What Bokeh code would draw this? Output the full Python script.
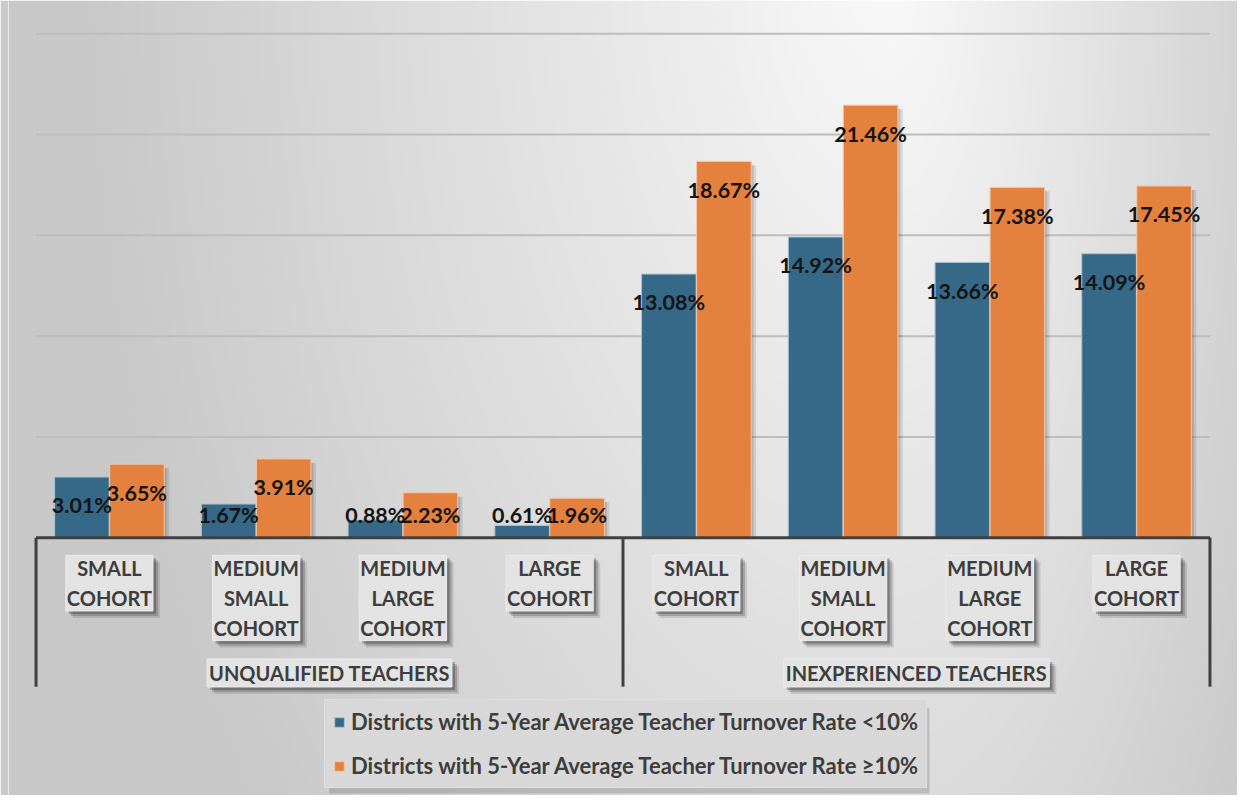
import numpy as np
from bokeh.plotting import figure
from bokeh.models import FactorRange, Range1d, ColumnDataSource, Legend, LegendItem
from bokeh.transform import dodge
from bokeh.core.properties import value
from bokeh.embed import file_html
from bokeh.resources import INLINE

# ---------------- data ----------------
GROUPS = ["UNQUALIFIED TEACHERS", "INEXPERIENCED TEACHERS"]
COHORTS = ["SMALL\nCOHORT", "MEDIUM\nSMALL\nCOHORT", "MEDIUM\nLARGE\nCOHORT", "LARGE\nCOHORT"]
SERIES = ["Districts with 5-Year Average Teacher Turnover Rate <10%",
          "Districts with 5-Year Average Teacher Turnover Rate \u226510%"]
LOW_TURNOVER = [3.01, 1.67, 0.88, 0.61, 13.08, 14.92, 13.66, 14.09]
HIGH_TURNOVER = [3.65, 3.91, 2.23, 1.96, 18.67, 21.46, 17.38, 17.45]
GRID_TICKS = [5, 10, 15, 20, 25]

# ---------------- layout constants ----------------
W, H = 1237, 795
SX, SY = W / 1253, H / 811        # reference picture -> canvas
L = 8                             # left border (px)
U0, U8 = 36 * SX, 1225 * SX       # category span in canvas px
PX_PER_UNIT = (U8 - U0) / 8
PAD = (U0 - L) / PX_PER_UNIT
Y0C, Y25C = 548 * SY, 34 * SY
PX_PER_PCT = (Y0C - Y25C) / 25
Y_TOP = 25 + Y25C / PX_PER_PCT
Y_BOT = -(H - Y0C) / PX_PER_PCT

REF_PCT = (548 - 34) / 25         # reference px per percent
REF_UNIT = (1225 - 36) / 8        # reference px per category


def y_ref(ry):                    # reference pixel row -> data value
    return (548 - ry) / REF_PCT


def x_ref(rx):                    # reference pixel column -> synthetic x
    return (rx - 36) / REF_UNIT


BLUE = "#356987"
ORANGE = "#e4813f"
DODGE = 0.1875
BAR_W = 0.372
FONT = value("Lato")

factors = [(g, c) for g in GROUPS for c in COHORTS]
xr = FactorRange(factors=factors, factor_padding=0, group_padding=0, subgroup_padding=0,
                 range_padding=PAD, range_padding_units="absolute")

p = figure(width=W, height=H, x_range=xr, y_range=Range1d(Y_BOT, Y_TOP),
           output_backend="svg", toolbar_location=None,
           min_border_left=L, min_border_right=0, min_border_top=0, min_border_bottom=0,
           x_axis_location=None, y_axis_location=None)
p.xgrid.visible = False
p.ygrid.visible = False
p.outline_line_color = None
p.border_fill_color = "#c9c9c9"

# ---------------- gradient background ----------------
ny, nx = 200, 310
yy, xx = np.mgrid[0:ny, 0:nx]
u = (xx + 0.5) / nx
v = (yy + 0.5) / ny
sx = np.where(u < 0.72, 0.75, 0.42)
d = np.sqrt(((u - 0.72) / sx) ** 2 + ((v - 1.05) / 2.0) ** 2)
val = np.clip(249 - 55 * d, 200, 249).astype(np.uint8)
img = np.empty((ny, nx), dtype=np.uint32)
view = img.view(dtype=np.uint8).reshape((ny, nx, 4))
view[:, :, 0] = val
view[:, :, 1] = val
view[:, :, 2] = val
view[:, :, 3] = 255
p.image_rgba(image=[img], x=-PAD, y=Y_BOT, dw=8 + 2 * PAD, dh=Y_TOP - Y_BOT)

# ---------------- gridlines ----------------
p.segment(x0=[0] * len(GRID_TICKS), x1=[8] * len(GRID_TICKS), y0=GRID_TICKS, y1=GRID_TICKS,
          line_color="#bdbdbd", line_width=2)

# ---------------- bars ----------------
low_lab_y = [max(t - 29 / REF_PCT, 23 / REF_PCT) for t in LOW_TURNOVER]
high_lab_y = [max(t - 29 / REF_PCT, 23 / REF_PCT) for t in HIGH_TURNOVER]
src = ColumnDataSource(dict(
    x=factors, low=LOW_TURNOVER, high=HIGH_TURNOVER,
    low_sh=[t - 4 / REF_PCT for t in LOW_TURNOVER],
    high_sh=[t - 4 / REF_PCT for t in HIGH_TURNOVER],
    low_y=low_lab_y, high_y=high_lab_y,
    low_txt=[f"{t:.2f}%" for t in LOW_TURNOVER],
    high_txt=[f"{t:.2f}%" for t in HIGH_TURNOVER],
))

sh = 5 / REF_UNIT
for off, col in ((-DODGE, "low_sh"), (DODGE, "high_sh")):
    p.vbar(x=dodge("x", off + sh, range=xr), top=col, bottom=0, width=BAR_W, source=src,
           fill_color="black", fill_alpha=0.10, line_color=None)
    p.vbar(x=dodge("x", off + sh * 0.5, range=xr), top=col, bottom=0, width=BAR_W, source=src,
           fill_color="black", fill_alpha=0.12, line_color=None)

r_low = p.vbar(x=dodge("x", -DODGE, range=xr), top="low", bottom=0, width=BAR_W, source=src,
               fill_color=BLUE, line_color="#a9c3d4", line_width=1)
r_high = p.vbar(x=dodge("x", DODGE, range=xr), top="high", bottom=0, width=BAR_W, source=src,
                fill_color=ORANGE, line_color="#f6c6a2", line_width=1)

# ---------------- axis line & separators ----------------
p.segment(x0=[0], x1=[8], y0=[0], y1=[0], line_color="#404040", line_width=3)
p.segment(x0=[0, 4, 8], x1=[0, 4, 8], y0=[0, 0, 0], y1=[y_ref(700)] * 3,
          line_color="#404040", line_width=3)

# ---------------- data labels ----------------
for off, ycol, tcol in ((-DODGE, "low_y", "low_txt"), (DODGE, "high_y", "high_txt")):
    p.text(x=dodge("x", off, range=xr), y=ycol, text=tcol, source=src,
           text_font=FONT, text_font_style="bold", text_font_size="21.5px",
           text_color="#141414", text_align="center", text_baseline="middle")

# ---------------- category labels with boxes ----------------
cat_src = ColumnDataSource(dict(x=factors, text=[c for g in GROUPS for c in COHORTS]))
cat_y = y_ref(566)
SHADOWS = ((7, 7, 0.13), (5, 5, 0.2), (3, 3, 0.28))
for dx, dy, alpha in SHADOWS:
    p.text(x="x", y=cat_y, text="text", source=cat_src, x_offset=dx, y_offset=dy,
           text_font=FONT, text_font_style="bold", text_font_size="20px",
           text_line_height=1.235, text_alpha=0, text_align="center", text_baseline="top",
           background_fill_color="#1a1a1a", background_fill_alpha=alpha, padding=1)
p.text(x="x", y=cat_y, text="text", source=cat_src,
       text_font=FONT, text_font_style="bold", text_font_size="20px",
       text_line_height=1.235, text_color="#3d3d3d", text_align="center", text_baseline="top",
       background_fill_color="#e3e3e3", border_line_color="#ececec", padding=1)

grp_src = ColumnDataSource(dict(x=[2, 6], text=GROUPS))
grp_y = y_ref(686)
for dx, dy, alpha in SHADOWS:
    p.text(x="x", y=grp_y, text="text", source=grp_src, x_offset=dx, y_offset=dy,
           text_font=FONT, text_font_style="bold", text_font_size="20px",
           text_alpha=0, text_align="center", text_baseline="middle",
           background_fill_color="#1a1a1a", background_fill_alpha=alpha, padding=2)
p.text(x="x", y=grp_y, text="text", source=grp_src,
       text_font=FONT, text_font_style="bold", text_font_size="20px",
       text_color="#3d3d3d", text_align="center", text_baseline="middle",
       background_fill_color="#e3e3e3", border_line_color="#ececec", padding=2)

# ---------------- legend ----------------
p.quad(left=[x_ref(333)], right=[x_ref(941)], top=[y_ref(722)], bottom=[y_ref(809)],
       fill_color="black", fill_alpha=0.14, line_color=None)
legend = Legend(items=[LegendItem(label=SERIES[0], renderers=[r_low]),
                       LegendItem(label=SERIES[1], renderers=[r_high])],
                location=(round(328 * SX - L), 7), orientation="vertical",
                label_text_font="Lato", label_text_font_style="bold",
                label_text_font_size="22px", label_text_color="#3d3d3d",
                glyph_width=12, glyph_height=12, label_standoff=6,
                label_height=24, spacing=17, padding=8, margin=0,
                background_fill_color="#d8d8d8", background_fill_alpha=1.0,
                border_line_color="#e6e6e6", border_line_width=1)
p.add_layout(legend, "center")

open("out.html", "w").write(file_html(p, INLINE))
